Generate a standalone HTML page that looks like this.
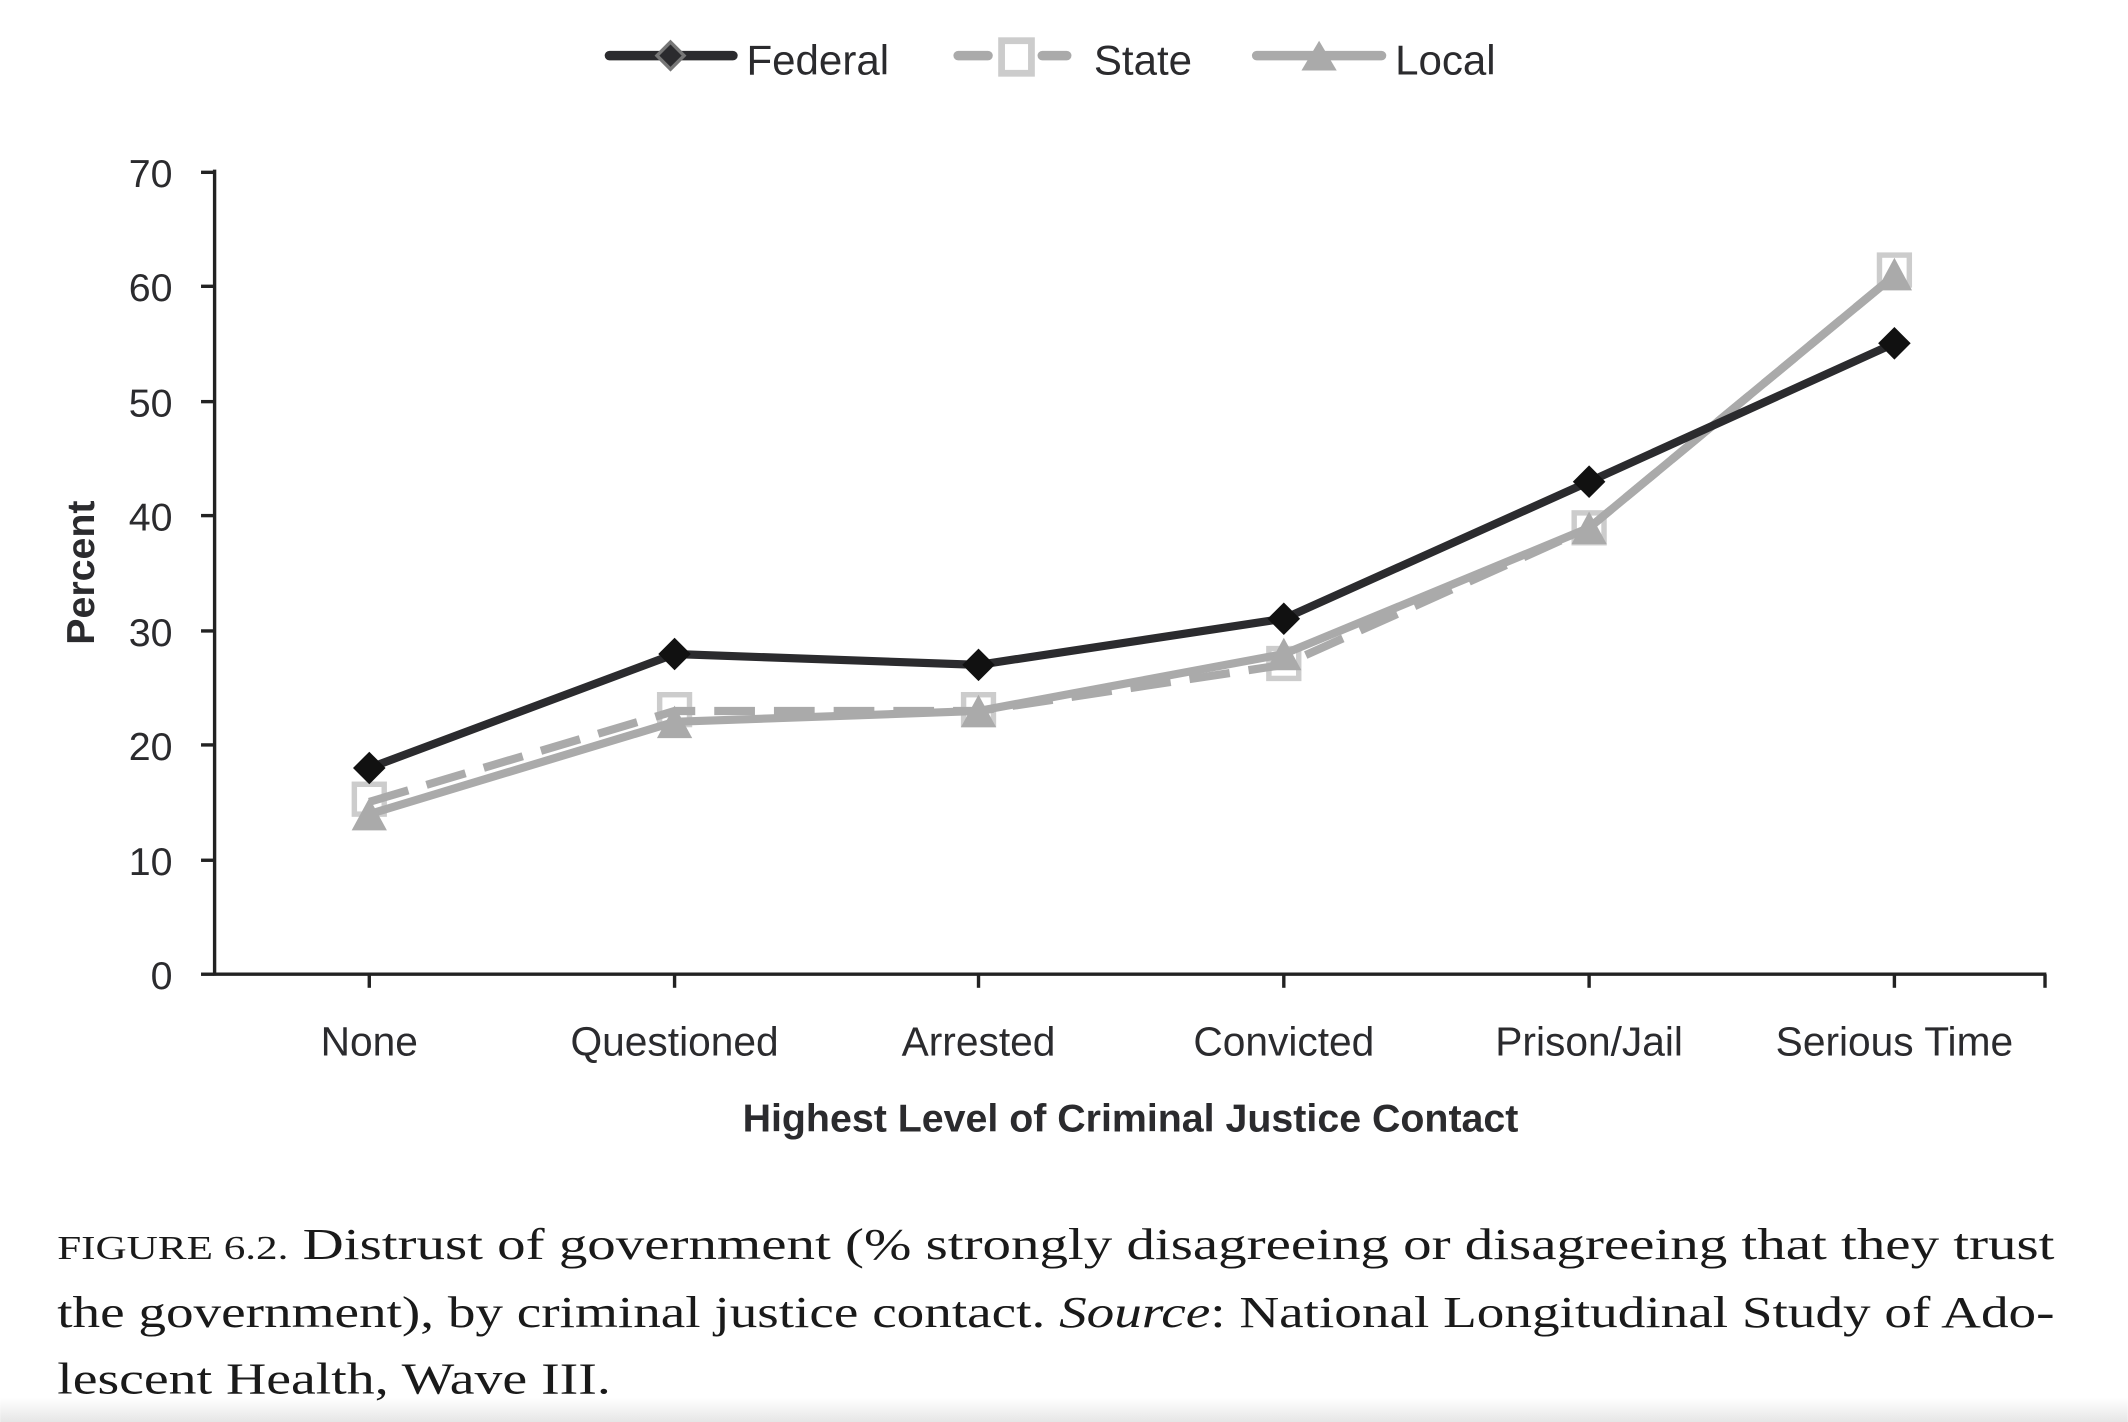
<!DOCTYPE html>
<html><head><meta charset="utf-8"><style>
html,body{margin:0;padding:0;background:#fff;}
svg{display:block;}
</style></head><body>
<svg width="2128" height="1422" viewBox="0 0 1568 1048" xmlns="http://www.w3.org/2000/svg">
<rect width="1568" height="1048" fill="#fff"/>
<defs><linearGradient id="g" x1="0" y1="0" x2="0" y2="1"><stop offset="0" stop-color="#fff"/><stop offset="1" stop-color="#e6e6e6"/></linearGradient></defs>
<rect x="0" y="1030" width="1568" height="18" fill="url(#g)"/>
<!-- legend -->
<g font-family="Liberation Sans, DejaVu Sans, sans-serif" font-size="31" fill="#2b2b2e">
<line x1="449" y1="41" x2="540" y2="41" stroke="#2b2b2e" stroke-width="7" stroke-linecap="round"/>
<polygon points="494,31 504,41 494,51 484,41" fill="#2b2b2e" stroke="#777" stroke-width="2.5"/>
<text x="550" y="55">Federal</text>
<line x1="706" y1="41" x2="728" y2="41" stroke="#aaa" stroke-width="7" stroke-linecap="round"/>
<line x1="768" y1="41" x2="786" y2="41" stroke="#aaa" stroke-width="7" stroke-linecap="round"/>
<rect x="738" y="30" width="22" height="24" fill="#fff" stroke="#ccc" stroke-width="5"/>
<text x="806" y="55">State</text>
<line x1="926" y1="41" x2="1018" y2="41" stroke="#aaa" stroke-width="7" stroke-linecap="round"/>
<polygon points="972,30 985,52 959,52" fill="#aaa"/>
<text x="1028" y="55">Local</text>
</g>
<!-- axes -->
<g stroke="#222" stroke-width="2.5" fill="none">
<line x1="158" y1="125" x2="158" y2="719"/>
<line x1="158" y1="718" x2="1508" y2="718"/>
<line x1="148" y1="127" x2="158" y2="127"/>
<line x1="148" y1="211" x2="158" y2="211"/>
<line x1="148" y1="296" x2="158" y2="296"/>
<line x1="148" y1="380" x2="158" y2="380"/>
<line x1="148" y1="465" x2="158" y2="465"/>
<line x1="148" y1="549" x2="158" y2="549"/>
<line x1="148" y1="634" x2="158" y2="634"/>
<line x1="148" y1="718" x2="158" y2="718"/>
<line x1="272" y1="718" x2="272" y2="728"/>
<line x1="497" y1="718" x2="497" y2="728"/>
<line x1="721" y1="718" x2="721" y2="728"/>
<line x1="946" y1="718" x2="946" y2="728"/>
<line x1="1171" y1="718" x2="1171" y2="728"/>
<line x1="1396" y1="718" x2="1396" y2="728"/>
<line x1="1507" y1="718" x2="1507" y2="728"/>
</g>
<g font-family="Liberation Sans, DejaVu Sans, sans-serif" font-size="29" fill="#2b2b2e" text-anchor="end">
<text x="127" y="138">70</text><text x="127" y="222">60</text><text x="127" y="307">50</text>
<text x="127" y="391">40</text><text x="127" y="476">30</text><text x="127" y="560">20</text>
<text x="127" y="645">10</text><text x="127" y="729">0</text>
</g>
<g font-family="Liberation Sans, DejaVu Sans, sans-serif" font-size="30" fill="#2b2b2e" text-anchor="middle">
<text x="272" y="778">None</text><text x="497" y="778">Questioned</text><text x="721" y="778">Arrested</text>
<text x="946" y="778">Convicted</text><text x="1171" y="778">Prison/Jail</text><text x="1396" y="778">Serious Time</text>
<text x="833" y="834" font-weight="bold" font-size="29">Highest Level of Criminal Justice Contact</text>
<text transform="translate(69,422) rotate(-90)" font-weight="bold" font-size="29">Percent</text>
</g>
<!-- series -->
<g fill="none" stroke="#ccc" stroke-width="4">
<rect x="261" y="578" width="22" height="22"/><rect x="486" y="512" width="22" height="22"/>
<rect x="710" y="512" width="22" height="22"/><rect x="935" y="478" width="22" height="22"/>
<rect x="1160" y="378" width="22" height="22"/><rect x="1385" y="188" width="22" height="22"/>
</g>
<polyline points="272,600 497,532 721,524 946,482 1171,389 1396,203" fill="none" stroke="#aaa" stroke-width="6"/>
<polyline points="272,591 497,524 721,524 946,490 1171,389 1396,203" fill="none" stroke="#aaa" stroke-width="6" stroke-dasharray="30 14"/>
<g fill="#aaa">
<polygon points="272,588 285,612 259,612"/><polygon points="497,520 510,544 484,544"/>
<polygon points="721,512 734,536 708,536"/><polygon points="946,470 959,494 933,494"/>
<polygon points="1171,377 1184,401 1158,401"/><polygon points="1396,190 1409,214 1383,214"/>
</g>
<polyline points="272,566 497,482 721,490 946,456 1171,355 1396,253" fill="none" stroke="#2b2b2e" stroke-width="6"/>
<g fill="#111">
<polygon points="272,554 284,566 272,578 260,566"/><polygon points="497,470 509,482 497,494 485,482"/>
<polygon points="721,478 733,490 721,502 709,490"/><polygon points="946,444 958,456 946,468 934,456"/>
<polygon points="1171,343 1183,355 1171,367 1159,355"/><polygon points="1396,241 1408,253 1396,265 1384,253"/>
</g>
<!-- caption -->
<g font-family="Liberation Serif, DejaVu Serif, serif" font-size="33" fill="#1a1a1a">
<text x="42" y="928" textLength="1472" lengthAdjust="spacingAndGlyphs"><tspan font-size="25">FIGURE 6.2.</tspan>  Distrust of government (% strongly disagreeing or disagreeing that they trust</text>
<text x="42" y="978" textLength="1472" lengthAdjust="spacingAndGlyphs">the government), by criminal justice contact. <tspan font-style="italic">Source</tspan>: National Longitudinal Study of Ado-</text>
<text x="42" y="1027" textLength="408" lengthAdjust="spacingAndGlyphs">lescent Health, Wave III.</text>
</g>
</svg>
</body></html>
